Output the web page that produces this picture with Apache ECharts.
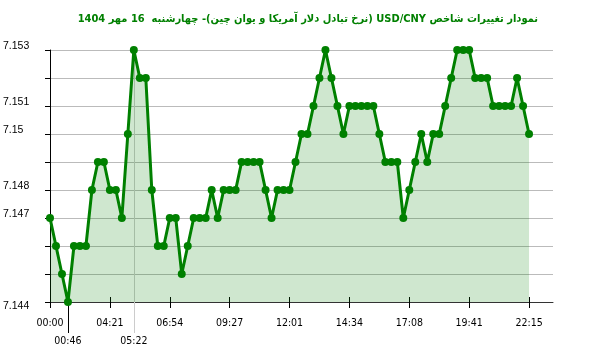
<!DOCTYPE html>
<html><head><meta charset="utf-8">
<script src="https://cdn.jsdelivr.net/npm/echarts@6/dist/echarts.min.js"></script>
<style>html,body{margin:0;padding:0;background:#fff}#c{width:600px;height:352px}</style>
</head><body><div id="c"></div>
<script>
const titleText = 'نمودار تغییرات شاخص USD/CNY (نرخ تبادل دلار آمریکا و یوان چین)- چهارشنبه  16 مهر 1404';
const values = [
 7.147,7.146,7.145,7.144,7.146,7.146,7.146,7.148,7.149,7.149,
 7.148,7.148,7.147,7.150,7.153,7.152,7.152,7.148,7.146,7.146,
 7.147,7.147,7.145,7.146,7.147,7.147,7.147,7.148,7.147,7.148,
 7.148,7.148,7.149,7.149,7.149,7.149,7.148,7.147,7.148,7.148,
 7.148,7.149,7.150,7.150,7.151,7.152,7.153,7.152,7.151,7.150,
 7.151,7.151,7.151,7.151,7.151,7.150,7.149,7.149,7.149,7.147,
 7.148,7.149,7.150,7.149,7.150,7.150,7.151,7.152,7.153,7.153,
 7.153,7.152,7.152,7.152,7.151,7.151,7.151,7.151,7.152,7.151,
 7.150
];
const xLabels = ['00:00','04:21','06:54','09:27','12:01','14:34','17:08','19:41','22:15'];
const xLabelStep = 10;
const minMark = {index: 3, text: '00:46'};
const maxMark = {index: 14, text: '05:22'};
const yTickLabels = [7.153, 7.151, 7.15, 7.148, 7.147, 7.144];
const slotCount = 85;

const cats = [];
for (let i = 0; i < slotCount; i++) {
  const k = i / xLabelStep;
  cats.push(Number.isInteger(k) && k < xLabels.length ? xLabels[k] : '');
}
const isMain = (i) => i % xLabelStep === 0 && i / xLabelStep < xLabels.length;
const catsMin = cats.map((c, i) => i === minMark.index ? minMark.text : '');
const catsMax = cats.map((c, i) => i === maxMark.index ? maxMark.text : '');

const xFont = {fontFamily: 'DejaVu Sans Condensed', fontSize: 10.5, color: '#000'};

const chart = echarts.init(document.getElementById('c'), null, {renderer: 'canvas'});
chart.setOption({
  animation: false,
  title: {
    text: '\u202B' + titleText + '\u202C', right: 57, top: 9,
    textStyle: {fontFamily: 'DejaVu Sans Condensed', fontWeight: 'bold', fontSize: 11, color: '#008000'}
  },
  grid: {left: 50, right: 47, top: 50, bottom: 50},
  xAxis: [
    {
      type: 'category', data: cats, boundaryGap: false, position: 'bottom',
      axisLine: {lineStyle: {color: '#333', width: 1}},
      axisTick: {show: true, interval: (i) => isMain(i), length: 6, lineStyle: {color: '#000'}},
      axisLabel: {interval: (i) => isMain(i), margin: 16, ...xFont},
      splitLine: {show: false}
    },
    {
      type: 'category', data: cats, boundaryGap: false, position: 'bottom',
      axisLine: {show: false},
      axisTick: {show: true, inside: true, interval: (i) => isMain(i), length: 5, lineStyle: {color: '#000'}},
      axisLabel: {show: false}, splitLine: {show: false}
    },
    {
      type: 'category', data: catsMin, boundaryGap: false, position: 'bottom',
      axisLine: {show: false},
      axisTick: {show: true, interval: (i) => i === minMark.index, length: 31, lineStyle: {color: '#000'}},
      axisLabel: {interval: (i) => i === minMark.index, margin: 34, ...xFont},
      splitLine: {show: false}
    },
    {
      type: 'category', data: catsMax, boundaryGap: false, position: 'bottom',
      axisLine: {show: false},
      axisTick: {show: true, interval: (i) => i === maxMark.index, length: 31, lineStyle: {color: '#ccc'}},
      axisLabel: {interval: (i) => i === maxMark.index, margin: 34, ...xFont},
      splitLine: {show: true, interval: (i) => i === maxMark.index, lineStyle: {color: '#ccc', width: 1}}
    }
  ],
  yAxis: {
    type: 'value', min: 7.144, max: 7.153, interval: 0.001,
    axisLine: {show: true, lineStyle: {color: '#000'}},
    axisTick: {show: true, length: 5, lineStyle: {color: '#000'}},
    splitLine: {show: true, lineStyle: {color: '#bbb', width: 1}},
    axisLabel: {
      align: 'left', margin: 47,
      formatter: (v) => {
        const r = Number(v.toFixed(3));
        if (!yTickLabels.some(t => Math.abs(t - r) < 1e-9)) return '';
        return (r === Math.min(...yTickLabels) ? '{b|' : '{a|') + String(r) + '}';
      },
      rich: {
        a: {fontFamily: 'Liberation Sans', fontSize: 10.5, color: '#000', padding: [0, 0, 7, 0]},
        b: {fontFamily: 'Liberation Sans', fontSize: 10.5, color: '#000', padding: [9, 0, 0, 0]}
      }
    }
  },
  series: [{
    type: 'line', data: values, xAxisIndex: 0,
    symbol: 'circle', symbolSize: 8, showSymbol: true, showAllSymbol: true,
    lineStyle: {color: '#008000', width: 3},
    itemStyle: {color: '#008000'},
    areaStyle: {color: 'rgba(0,128,0,0.19)', opacity: 1}
  }]
});
</script></body></html>
